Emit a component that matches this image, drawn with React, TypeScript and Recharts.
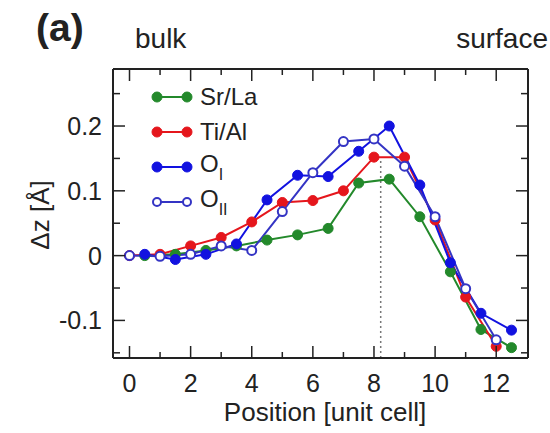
import { LineChart, Line, XAxis, YAxis, ReferenceLine, Legend } from "recharts";

const FONT = '"Liberation Sans", Arial, Helvetica, sans-serif';

// positions: A-site layers (Sr/La, O_I) sit on half cells, B-site (Ti/Al, O_II) on whole cells
const posA = [0.5, 1.5, 2.5, 3.5, 4.5, 5.5, 6.5, 7.5, 8.5, 9.5, 10.5, 11.5, 12.5];
const posB = [0, 1, 2, 3, 4, 5, 6, 7, 8, 9, 10, 11, 12];

const srLa = [0, 0.002, 0.008, 0.015, 0.024, 0.032, 0.042, 0.112, 0.118, 0.06, -0.025, -0.114, -0.142];
const tiAl = [0, 0.002, 0.015, 0.028, 0.052, 0.082, 0.085, 0.1, 0.152, 0.152, 0.055, -0.064, -0.14];
const oI = [0.002, -0.006, 0.002, 0.018, 0.086, 0.124, 0.122, 0.161, 0.2, 0.109, -0.011, -0.089, -0.115];
const oII = [0, -0.001, 0.002, 0.015, 0.008, 0.068, 0.128, 0.176, 0.18, 0.138, 0.06, -0.051, -0.13];

const xTicks = [0, 1, 2, 3, 4, 5, 6, 7, 8, 9, 10, 11, 12];
const yTicks = [-0.15, -0.1, -0.05, 0, 0.05, 0.1, 0.15, 0.2, 0.25];
const xDomain = [-0.54, 13.04];
const yDomain = [-0.158, 0.288];
const legendOrder = ["Sr/La", "Ti/Al", "O_I", "O_II"];

const GREEN = "#23892b";
const RED = "#e5161c";
const BLUE = "#1212e0";
const BLUE2 = "#3434c4";

const toPts = (xs: number[], ys: number[]) => xs.map((x, i) => ({ x, y: ys[i] }));

const styles: Record<string, { color: string; open?: boolean }> = {
  "Sr/La": { color: GREEN },
  "Ti/Al": { color: RED },
  "O_I": { color: BLUE },
  "O_II": { color: BLUE2, open: true },
};

function isMajorY(v: number) {
  return Math.round(v * 100) % 10 === 0;
}

function fmtY(v: number) {
  if (Math.abs(v) < 1e-9) return "0";
  return String(Math.round(v * 10) / 10);
}

function BottomTick(props: any) {
  const { x, y, payload } = props;
  const major = payload.value % 2 === 0;
  return (
    <g>
      <line x1={x} x2={x} y1={y} y2={y - (major ? 12 : 6)} stroke="#222" strokeWidth={1.5} />
      {major && (
        <text x={x} y={y + 34} textAnchor="middle" fontSize={25} fontFamily={FONT} fill="#222">
          {payload.value}
        </text>
      )}
    </g>
  );
}

function TopTick(props: any) {
  const { x, y, payload } = props;
  const major = payload.value % 2 === 0;
  return <line x1={x} x2={x} y1={y} y2={y + (major ? 12 : 6)} stroke="#222" strokeWidth={1.5} />;
}

function LeftTick(props: any) {
  const { x, y, payload } = props;
  const major = isMajorY(payload.value);
  return (
    <g>
      <line x1={x} x2={x + (major ? 12 : 7)} y1={y} y2={y} stroke="#222" strokeWidth={1.5} />
      {major && (
        <text x={x - 11} y={y + 9} textAnchor="end" fontSize={25} fontFamily={FONT} fill="#222">
          {fmtY(payload.value)}
        </text>
      )}
    </g>
  );
}

function RightTick(props: any) {
  const { x, y, payload } = props;
  const major = isMajorY(payload.value);
  return <line x1={x} x2={x - (major ? 12 : 7)} y1={y} y2={y} stroke="#222" strokeWidth={1.5} />;
}

function SeriesName({ name }: { name: string }) {
  if (name.startsWith("O_")) {
    return (
      <span>
        O<sub style={{ fontSize: 16, verticalAlign: "-8px" }}>{name.slice(2)}</sub>
      </span>
    );
  }
  return <span>{name}</span>;
}

function LegendBox(props: any) {
  const items = [...(props.payload || [])].sort(
    (a: any, b: any) => legendOrder.indexOf(a.value) - legendOrder.indexOf(b.value)
  );
  return (
    <div style={{ fontFamily: FONT, fontSize: 24, color: "#222" }}>
      {items.map((it: any) => {
        const s = styles[it.value] || { color: it.color };
        return (
          <div key={it.value} style={{ display: "flex", alignItems: "center", height: 35 }}>
            <svg width={50} height={20} style={{ marginRight: 2 }}>
              <line x1={9} x2={39} y1={10} y2={10} stroke={s.color} strokeWidth={2} />
              {[9, 39].map((cx) => (
                <circle key={cx} cx={cx} cy={10} r={s.open ? 4 : 5}
                        fill={s.open ? "#fff" : s.color} stroke={s.color} strokeWidth={s.open ? 2 : 1} />
              ))}
            </svg>
            <SeriesName name={it.value} />
          </div>
        );
      })}
    </div>
  );
}

export default function App() {
  return (
    <div style={{ position: "absolute", left: 0, top: 0, width: 550, height: 433, background: "#fff" }}>
      <LineChart width={550} height={433} margin={{ top: 68, right: 21, bottom: 45, left: 53 }}>
        <XAxis type="number" dataKey="x" domain={xDomain} ticks={xTicks} allowDataOverflow
               height={30} tickSize={0} tickMargin={0} tickLine={false} interval={0}
               axisLine={{ stroke: "#222", strokeWidth: 2 }} tick={<BottomTick />} />
        <XAxis xAxisId="top" orientation="top" type="number" dataKey="x" domain={xDomain} ticks={xTicks}
               allowDataOverflow height={1} tickSize={0} tickMargin={0} tickLine={false} interval={0}
               axisLine={{ stroke: "#222", strokeWidth: 2 }} tick={<TopTick />} />
        <YAxis type="number" dataKey="y" domain={yDomain} ticks={yTicks} allowDataOverflow
               width={60} tickSize={0} tickMargin={0} tickLine={false} interval={0}
               axisLine={{ stroke: "#222", strokeWidth: 2 }} tick={<LeftTick />} />
        <YAxis yAxisId="right" orientation="right" type="number" dataKey="y" domain={yDomain} ticks={yTicks}
               allowDataOverflow width={1} tickSize={0} tickMargin={0} tickLine={false} interval={0}
               axisLine={{ stroke: "#222", strokeWidth: 2 }} tick={<RightTick />} />
        <ReferenceLine segment={[{ x: 8.22, y: -0.158 }, { x: 8.22, y: 0.148 }]}
                       stroke="#777" strokeWidth={1.5} strokeDasharray="2 3" />
        <Legend content={<LegendBox />} layout="vertical" align="center" verticalAlign="middle"
                wrapperStyle={{ left: 148, top: 79, width: 140 }} />
        <Line name="Sr/La" data={toPts(posA, srLa)} dataKey="y" stroke={GREEN} strokeWidth={2}
              dot={{ r: 5, fill: GREEN, stroke: GREEN, strokeWidth: 1 }} isAnimationActive={false} />
        <Line name="Ti/Al" data={toPts(posB, tiAl)} dataKey="y" stroke={RED} strokeWidth={2}
              dot={{ r: 5, fill: RED, stroke: RED, strokeWidth: 1 }} isAnimationActive={false} />
        <Line name="O_I" data={toPts(posA, oI)} dataKey="y" stroke={BLUE} strokeWidth={2}
              dot={{ r: 5, fill: BLUE, stroke: BLUE, strokeWidth: 1 }} isAnimationActive={false} />
        <Line name="O_II" data={toPts(posB, oII)} dataKey="y" stroke={BLUE2} strokeWidth={2}
              dot={{ r: 4.5, fill: "#fff", stroke: BLUE2, strokeWidth: 2 }} isAnimationActive={false} />
      </LineChart>
      <svg width={550} height={433} style={{ position: "absolute", left: 0, top: 0, pointerEvents: "none" }}
           fontFamily={FONT} fill="#222">
        <text x={36} y={41} fontSize={39} fontWeight="bold">(a)</text>
        <text x={135} y={48} fontSize={28}>bulk</text>
        <text x={548} y={48} fontSize={28} textAnchor="end">surface</text>
        <text x={325} y={421} fontSize={26} textAnchor="middle">Position [unit cell]</text>
        <text transform="translate(49,215) rotate(-90)" fontSize={26} textAnchor="middle">Δz [Å]</text>
      </svg>
    </div>
  );
}
